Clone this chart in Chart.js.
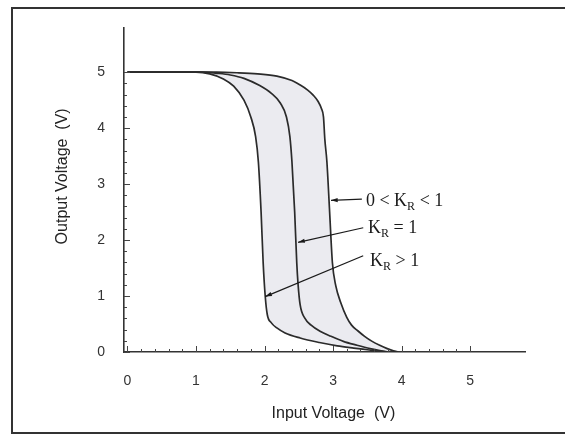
<!DOCTYPE html>
<html>
<head>
<meta charset="utf-8">
<script src="https://cdn.jsdelivr.net/npm/chart.js@4"></script>
<style>
  html, body { margin: 0; padding: 0; background: #fff; }
  #wrap { position: relative; width: 565px; height: 434px; }
  #frame {
    position: absolute; left: 11px; top: 7px; width: 560px; height: 423px;
    border-left: 2px solid #333; border-top: 2px solid #333; border-bottom: 2px solid #333;
    pointer-events: none;
  }
</style>
</head>
<body>
<div id="wrap">
  <canvas id="vtc" width="565" height="434"></canvas>
  <div id="frame"></div>
</div>
<script>
// tick labels
var xTickLabels = ['0', '1', '2', '3', '4', '5'];
var yTickLabels = ['0', '1', '2', '3', '4', '5'];

// K_R > 1 (left curve)
var leftX = [0, 1.0, 1.2, 1.4, 1.55, 1.7, 1.8, 1.87, 1.91, 1.95, 1.98, 2.01, 2.04, 2.1, 2.18, 2.3, 2.52, 2.8, 3.06, 3.3, 3.5, 3.7, 3.8];
var leftY = [5, 5, 4.97, 4.88, 4.75, 4.5, 4.2, 3.85, 3.4, 2.5, 1.6, 1.0, 0.67, 0.52, 0.43, 0.34, 0.25, 0.17, 0.11, 0.07, 0.04, 0.01, 0];

// K_R = 1 (middle curve)
var midX = [0, 1.1, 1.3, 1.5, 1.7, 1.93, 2.1, 2.23, 2.32, 2.37, 2.40, 2.44, 2.47, 2.49, 2.52, 2.59, 2.68, 2.81, 2.97, 3.15, 3.35, 3.54, 3.7, 3.8];
var midY = [5, 5, 4.98, 4.95, 4.89, 4.76, 4.62, 4.45, 4.2, 3.85, 3.4, 2.5, 1.6, 1.2, 0.84, 0.6, 0.48, 0.37, 0.28, 0.19, 0.12, 0.06, 0.02, 0];

// 0 < K_R < 1 (right curve)
var rightX = [0, 1.3, 1.6, 1.9, 2.18, 2.4, 2.52, 2.63, 2.71, 2.78, 2.83, 2.86, 2.88, 2.91, 2.95, 2.99, 3.04, 3.11, 3.2, 3.27, 3.36, 3.46, 3.57, 3.68, 3.79, 3.88, 3.95];
var rightY = [5, 5, 4.99, 4.97, 4.93, 4.85, 4.77, 4.68, 4.59, 4.48, 4.35, 4.2, 3.8, 3.4, 2.5, 1.6, 1.18, 0.89, 0.62, 0.48, 0.38, 0.28, 0.19, 0.12, 0.06, 0.02, 0];

// annotations (data units)
var labelPre = ['0 < K', 'K', 'K'];
var labelSub = ['R', 'R', 'R'];
var labelPost = [' < 1', ' = 1', ' > 1'];
var labelAt = [[3.48, 2.61], [3.51, 2.13], [3.54, 1.54]];
var arrowFrom = [[3.42, 2.73], [3.44, 2.22], [3.44, 1.72]];
var arrowTo = [[2.97, 2.71], [2.49, 1.96], [2.01, 0.99]];

function toPoints(xs, ys) {
    return xs.map(function (x, i) { return { x: x, y: ys[i] }; });
}

function buildTicks(labels) {
    // major ticks from labels, minor every 0.2
    var vals = [];
    for (var i = 0; i < labels.length; i++) {
        var v = parseFloat(labels[i]);
        vals.push(v);
        if (i < labels.length - 1) {
            for (var k = 1; k < 5; k++) vals.push(Math.round((v + k * 0.2) * 10) / 10);
        }
    }
    return vals;
}

var xTicks = buildTicks(xTickLabels);
var yTicks = buildTicks(yTickLabels);

function isMajor(v) { return Math.abs(v - Math.round(v)) < 1e-6; }

var lineColor = '#2b2b2b';
var axisFont = { family: 'Liberation Sans, Arial, sans-serif', size: 14 };
var titleFont = { family: 'Liberation Sans, Arial, sans-serif', size: 16 };

// inward tick marks
var innerTicks = {
    id: 'innerTicks',
    afterDraw: function (chart) {
        var ctx = chart.ctx, xs = chart.scales.x, ys = chart.scales.y;
        var a = chart.chartArea;
        ctx.save();
        ctx.strokeStyle = '#444';
        ctx.lineWidth = 1;
        xTicks.forEach(function (v) {
            var px = Math.round(xs.getPixelForValue(v)) + 0.5;
            var len = isMajor(v) ? 6 : 3;
            ctx.beginPath();
            ctx.moveTo(px, a.bottom);
            ctx.lineTo(px, a.bottom - len);
            ctx.stroke();
        });
        yTicks.forEach(function (v) {
            var py = Math.round(ys.getPixelForValue(v)) + 0.5;
            var len = isMajor(v) ? 6 : 3;
            ctx.beginPath();
            ctx.moveTo(a.left, py);
            ctx.lineTo(a.left + len, py);
            ctx.stroke();
        });
        ctx.restore();
    }
};

// arrows + K_R labels
var kLabels = {
    id: 'kLabels',
    afterDatasetsDraw: function (chart) {
        var ctx = chart.ctx, xs = chart.scales.x, ys = chart.scales.y;
        ctx.save();
        ctx.strokeStyle = '#1a1a1a';
        ctx.fillStyle = '#1a1a1a';
        ctx.lineWidth = 1.2;
        for (var i = 0; i < labelPre.length; i++) {
            var x1 = xs.getPixelForValue(arrowFrom[i][0]), y1 = ys.getPixelForValue(arrowFrom[i][1]);
            var x2 = xs.getPixelForValue(arrowTo[i][0]), y2 = ys.getPixelForValue(arrowTo[i][1]);
            var ang = Math.atan2(y2 - y1, x2 - x1);
            ctx.beginPath();
            ctx.moveTo(x1, y1);
            ctx.lineTo(x2, y2);
            ctx.stroke();
            ctx.beginPath();
            ctx.moveTo(x2, y2);
            ctx.lineTo(x2 - 7 * Math.cos(ang - 0.3), y2 - 7 * Math.sin(ang - 0.3));
            ctx.lineTo(x2 - 7 * Math.cos(ang + 0.3), y2 - 7 * Math.sin(ang + 0.3));
            ctx.closePath();
            ctx.fill();

            var tx = xs.getPixelForValue(labelAt[i][0]), ty = ys.getPixelForValue(labelAt[i][1]);
            ctx.textBaseline = 'alphabetic';
            ctx.textAlign = 'left';
            ctx.font = '18px "Liberation Serif", "Times New Roman", serif';
            ctx.fillText(labelPre[i], tx, ty);
            tx += ctx.measureText(labelPre[i]).width;
            ctx.font = '12px "Liberation Serif", "Times New Roman", serif';
            ctx.fillText(labelSub[i], tx, ty + 4);
            tx += ctx.measureText(labelSub[i]).width;
            ctx.font = '18px "Liberation Serif", "Times New Roman", serif';
            ctx.fillText(labelPost[i], tx, ty);
        }
        ctx.restore();
    }
};

var ctx = document.getElementById('vtc').getContext('2d');
new Chart(ctx, {
    type: 'line',
    data: {
        datasets: [{
            label: 'K_R > 1',
            data: toPoints(leftX, leftY),
            borderColor: lineColor,
            borderWidth: 1.7,
            pointRadius: 0,
            cubicInterpolationMode: 'monotone',
            fill: { target: 2 },
            backgroundColor: '#ebebf0'
        }, {
            label: 'K_R = 1',
            data: toPoints(midX, midY),
            borderColor: lineColor,
            borderWidth: 1.7,
            pointRadius: 0,
            cubicInterpolationMode: 'monotone',
            fill: false
        }, {
            label: '0 < K_R < 1',
            data: toPoints(rightX, rightY),
            borderColor: lineColor,
            borderWidth: 1.7,
            pointRadius: 0,
            cubicInterpolationMode: 'monotone',
            fill: false
        }]
    },
    options: {
        responsive: false,
        animation: false,
        devicePixelRatio: 1,
        layout: { padding: { top: 12, right: 40, left: 0, bottom: 0 } },
        plugins: {
            legend: { display: false },
            tooltip: { enabled: false },
            filler: { drawTime: 'beforeDatasetsDraw' }
        },
        scales: {
            x: {
                type: 'linear',
                min: -0.05,
                max: 5.8,
                afterBuildTicks: function (s) { s.ticks = xTicks.map(function (v) { return { value: v }; }); },
                afterFit: function (s) { s.height = 82; },
                grid: { display: false, drawTicks: false },
                border: { display: true, color: '#333', width: 1.6 },
                ticks: {
                    padding: 21,
                    autoSkip: false,
                    maxRotation: 0,
                    color: '#333',
                    font: axisFont,
                    callback: function (v) { return isMajor(v) ? xTickLabels[Math.round(v)] : ''; }
                },
                title: {
                    display: true,
                    text: '    Input Voltage  (V)',
                    color: '#222',
                    font: titleFont,
                    padding: { top: 0, bottom: 11 }
                }
            },
            y: {
                type: 'linear',
                min: 0,
                max: 5.8,
                afterBuildTicks: function (s) { s.ticks = yTicks.map(function (v) { return { value: v }; }); },
                afterFit: function (s) { s.width = 124; },
                grid: { display: false, drawTicks: false },
                border: { display: true, color: '#333', width: 1.6 },
                ticks: {
                    padding: 19,
                    autoSkip: false,
                    color: '#333',
                    font: axisFont,
                    callback: function (v) { return isMajor(v) ? yTickLabels[Math.round(v)] : ''; }
                },
                title: {
                    display: true,
                    text: '      Output Voltage  (V)',
                    color: '#222',
                    font: titleFont,
                    padding: { top: 53, bottom: 0 }
                }
            }
        }
    },
    plugins: [innerTicks, kLabels]
});
</script>
</body>
</html>
